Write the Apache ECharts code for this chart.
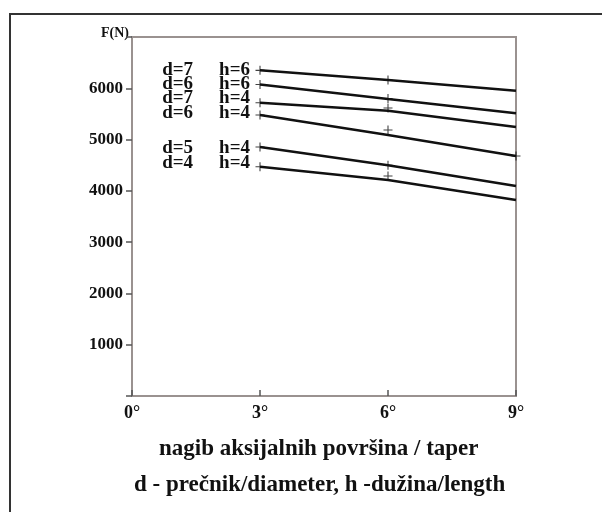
<!DOCTYPE html>
<html>
<head>
<meta charset="utf-8">
<script src="https://cdn.jsdelivr.net/npm/echarts@6/dist/echarts.min.js"></script>
<style>
    html, body { margin: 0; padding: 0; background: #fff; }
    #chart { width: 602px; height: 512px; }
</style>
</head>
<body>
<div id="chart"></div>
<script>
// x positions (taper in degrees)
var taper = [3, 6, 9];
var xTicks = [0, 3, 6, 9];
var yTicks = [1000, 2000, 3000, 4000, 5000, 6000];

// curve labels
var dLabels = ['d=7', 'd=6', 'd=7', 'd=6', 'd=5', 'd=4'];
var hLabels = ['h=6', 'h=6', 'h=4', 'h=4', 'h=4', 'h=4'];

// fitted lines F(N)
var line1 = [6350, 6160, 5950];
var line2 = [6075, 5790, 5515];
var line3 = [5717, 5560, 5245];
var line4 = [5478, 5090, 4680];
var line5 = [4855, 4500, 4095];
var line6 = [4470, 4210, 3820];

// measured points F(N)
var pts1 = [6350, 6160];
var pts2 = [6075, 5800];
var pts3 = [5717, 5615];
var pts4 = [5478, 5185, 4680];
var pts5 = [4855, 4500];
var pts6 = [4470, 4290];

var lines = [line1, line2, line3, line4, line5, line6];
var points = [pts1, pts2, pts3, pts4, pts5, pts6];
// small vertical shifts of the curve labels so they do not overlap
var labelShift = [0, 0, -5, -2, 1, -4];

var plus = 'path://M4.4,0H5.6V4.4H10V5.6H5.6V10H4.4V5.6H0V4.4H4.4Z';
var serif = '"Liberation Serif", "DejaVu Serif", serif';

var myChart = echarts.init(document.getElementById('chart'));

var series = [];
lines.forEach(function(vals, i) {
    var data = vals.map(function(v, j) { return [taper[j], v]; });
    series.push({
        type: 'line',
        data: data,
        symbol: 'none',
        lineStyle: { color: '#111', width: 2.5 },
        silent: true,
        z: 3,
        markPoint: {
            symbol: 'circle',
            symbolSize: 0,
            silent: true,
            data: [{
                coord: data[0],
                label: {
                    show: true,
                    position: 'left',
                    distance: 10,
                    offset: [0, labelShift[i]],
                    formatter: '{d|' + dLabels[i] + '}{h|' + hLabels[i] + '}',
                    rich: {
                        d: { padding: [0, 26, 0, 0], fontFamily: serif, fontWeight: 'bold', fontSize: 19, color: '#111' },
                        h: { fontFamily: serif, fontWeight: 'bold', fontSize: 19, color: '#111' }
                    }
                }
            }]
        }
    });
    series.push({
        type: 'scatter',
        data: points[i].map(function(v, j) { return [taper[j], v]; }),
        symbol: plus,
        symbolSize: 9,
        itemStyle: { color: '#111' },
        silent: true,
        z: 4
    });
});

var option = {
    animation: false,
    backgroundColor: '#fff',
    grid: {
        left: 132,
        right: 86,
        top: 37,
        bottom: 116,
        show: true,
        borderColor: '#9a9290',
        borderWidth: 2
    },
    xAxis: {
        type: 'value',
        min: 0,
        max: 9,
        interval: 3,
        splitLine: { show: false },
        axisLine: { lineStyle: { color: '#9a9290', width: 2 } },
        axisTick: { inside: true, length: 6, lineStyle: { color: '#555', width: 1.5 } },
        axisLabel: {
            margin: 8,
            fontFamily: serif,
            fontWeight: 'bold',
            fontSize: 18,
            color: '#111',
            customValues: xTicks,
            formatter: function(v) { return v + '°'; }
        }
    },
    yAxis: {
        type: 'value',
        min: 0,
        max: 7000,
        interval: 1000,
        splitLine: { show: false },
        axisLine: { lineStyle: { color: '#9a9290', width: 2 } },
        axisTick: { length: 6, lineStyle: { color: '#555', width: 1.5 } },
        axisLabel: {
            margin: 9,
            fontFamily: serif,
            fontWeight: 'bold',
            fontSize: 17,
            color: '#111',
            formatter: function(v) { return yTicks.indexOf(v) >= 0 ? String(v) : ''; }
        }
    },
    graphic: [
        {
            type: 'polyline',
            shape: { points: [[10, 520], [10, 14], [610, 14]] },
            style: { stroke: '#333', lineWidth: 2, fill: null }
        },
        {
            type: 'text',
            left: 101,
            top: 26,
            style: { text: 'F(N)', font: 'bold 14px ' + serif, fill: '#111' }
        },
        {
            type: 'text',
            left: 159,
            top: 438,
            style: { text: 'nagib aksijalnih površina / taper', font: 'bold 23px ' + serif, fill: '#111' }
        },
        {
            type: 'text',
            left: 134,
            top: 474,
            style: { text: 'd - prečnik/diameter, h -dužina/length', font: 'bold 23px ' + serif, fill: '#111' }
        }
    ],
    series: series
};

myChart.setOption(option);
</script>
</body>
</html>
